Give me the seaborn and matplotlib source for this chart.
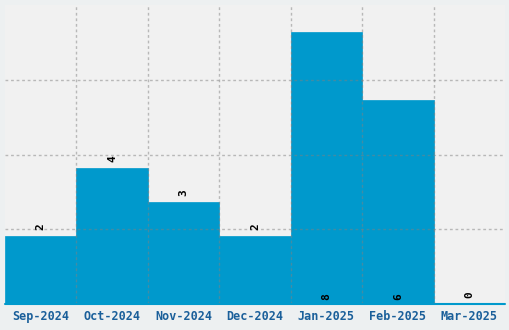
import matplotlib
matplotlib.use("Agg")
import matplotlib.pyplot as plt
import seaborn as sns
import pandas as pd

months = ["Sep-2024", "Oct-2024", "Nov-2024", "Dec-2024", "Jan-2025", "Feb-2025", "Mar-2025"]
counts = [2, 4, 3, 2, 8, 6, 0]

df = pd.DataFrame({"month": months, "count": counts})

sns.set_style("white")
plt.rcParams['font.family'] = ['DejaVu Sans Mono', 'DejaVu Sans']

fig = plt.figure(figsize=(5.1, 3.3), dpi=100, facecolor="#edf0f1")
ax = fig.add_axes([5/510, 26/330, 500/510, 299/330])
ax.set_facecolor("#f1f1f1")

bar_color = "#0099cc"
sns.barplot(data=df, x="month", y="count", order=months, color=bar_color,
            width=1.0, saturation=1, edgecolor=bar_color, linewidth=0.5, ax=ax)
ax.axhline(0, color=bar_color, linewidth=1.5, zorder=3, clip_on=False)

ymax = 8.8
ax.set_ylim(0, ymax)
ax.set_xlim(-0.5, len(months) - 0.5)
ax.set_yticks([ymax * i / 4 for i in range(1, 4)])
ax.set_yticklabels([])
ax.set_xticks([i + 0.5 for i in range(len(months) - 1)], minor=True)
ax.tick_params(axis="y", length=0)
ax.tick_params(axis="x", which="both", length=0, pad=4)
ax.set_xticks(range(len(months)))
ax.set_xticklabels(months, fontsize=8.5, fontweight="bold", color="#1a5f9a")
ax.grid(True, axis="y", linestyle=(0, (2, 2)), color="#808080", alpha=0.5, linewidth=1)
ax.grid(True, axis="x", which="minor", linestyle=(0, (2, 2)), color="#808080", alpha=0.5, linewidth=1)
ax.grid(False, axis="x", which="major")
ax.set_axisbelow(False)
for s in ax.spines.values():
    s.set_visible(False)
ax.set_xlabel("")
ax.set_ylabel("")

for i, v in enumerate(counts):
    if v >= 5:
        y = 0.12
    else:
        y = v + 0.17
    ax.text(i, y, str(v), rotation=90, ha="center", va="bottom", fontsize=8,
            fontweight="bold", color="black")

fig.savefig("out.png", dpi=100, facecolor=fig.get_facecolor())
